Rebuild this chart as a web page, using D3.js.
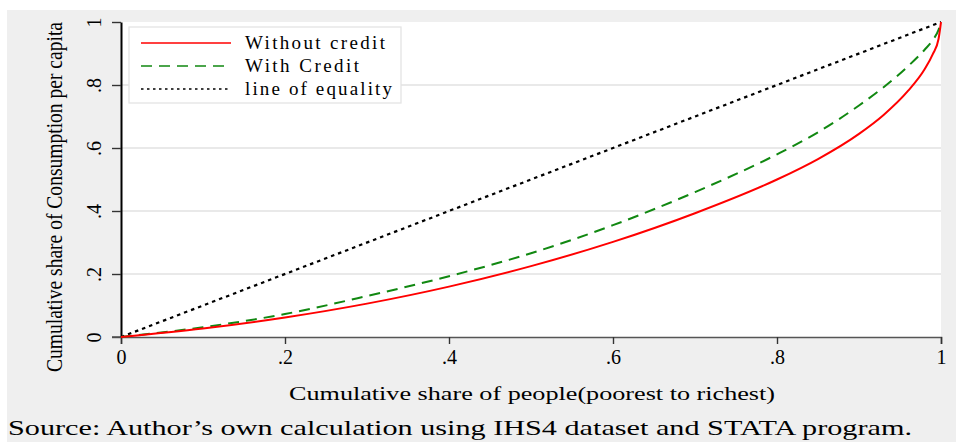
<!DOCTYPE html>
<html>
<head>
<meta charset="utf-8">
<script src="https://cdn.jsdelivr.net/npm/d3@7"></script>
<style>
  body { margin: 0; background: #fff; }
  svg text { font-family: "Liberation Serif", "Times New Roman", serif; fill: #000; }
</style>
</head>
<body>
<div id="chart"></div>
<script>
// cumulative share of people (x) and of consumption (y)
var people      = [0, 0.1, 0.2, 0.3, 0.4, 0.5, 0.6, 0.7, 0.8, 0.85, 0.9, 0.93, 0.96, 0.98, 0.99, 0.997, 1];
var noCredit    = [0, 0.027, 0.062, 0.106, 0.16, 0.225, 0.302, 0.393, 0.5, 0.565, 0.645, 0.705, 0.782, 0.85, 0.898, 0.946, 1];
var withCredit  = [0, 0.031, 0.073, 0.13, 0.193, 0.266, 0.355, 0.46, 0.58, 0.65, 0.735, 0.793, 0.86, 0.912, 0.943, 0.975, 1];
var equality    = [0, 1];

var xTicks = [0, 0.2, 0.4, 0.6, 0.8, 1];
var yTicks = [0, 0.2, 0.4, 0.6, 0.8, 1];
var legendNames = ["Without credit", "With Credit", "line of equality"];

var W = 956, H = 442;
var margin = {top: 22, right: 15, bottom: 105, left: 121};

var svg = d3.select("#chart").append("svg")
  .attr("width", W).attr("height", H);

// stata-ish grey background
svg.append("rect").attr("x", 7).attr("y", 10).attr("width", W - 7).attr("height", H - 10)
  .attr("fill", "#efefef");

var x = d3.scaleLinear().domain([0, 1]).range([margin.left, W - margin.right]);
var y = d3.scaleLinear().domain([0, 1]).range([H - margin.bottom, margin.top]);

// plot region
svg.append("rect")
  .attr("x", x(0)).attr("y", y(1))
  .attr("width", x(1) - x(0)).attr("height", y(0) - y(1))
  .attr("fill", "#fff");

// grid
svg.selectAll("line.grid")
  .data(yTicks.filter(function(d) { return d > 0 && d < 1; }))
  .enter().append("line")
    .attr("x1", x(0)).attr("x2", x(1))
    .attr("y1", function(d) { return y(d); })
    .attr("y2", function(d) { return y(d); })
    .attr("stroke", "#e2e2e2").attr("stroke-width", 1.3);

var fmt = function(d) { return d == 0 ? "0" : d == 1 ? "1" : d3.format(".1f")(d).replace(/^0/, ""); };

// x axis
var xAxis = svg.append("g")
  .attr("transform", "translate(0," + y(0) + ")")
  .call(d3.axisBottom(x).tickValues(xTicks).tickFormat(fmt).tickSize(7).tickPadding(6));
xAxis.select(".domain").attr("stroke", "#555").attr("stroke-width", 1.6);
xAxis.selectAll(".tick line").attr("stroke", "#333").attr("stroke-width", 1.4);
xAxis.selectAll(".tick text").style("font-size", "20px").style("font-family", "Liberation Serif");

// y axis
var yAxis = svg.append("g")
  .attr("transform", "translate(" + x(0) + ",0)")
  .call(d3.axisLeft(y).tickValues(yTicks).tickFormat(fmt).tickSize(9).tickSizeOuter(0));
yAxis.select(".domain").attr("stroke", "#000").attr("stroke-width", 2);
yAxis.selectAll(".tick line").attr("stroke", "#333").attr("stroke-width", 1.4);
yAxis.selectAll(".tick text")
  .attr("x", 0).attr("dy", 0).attr("y", 0)
  .attr("text-anchor", "middle")
  .attr("transform", "translate(-20,0) rotate(-90)")
  .style("font-size", "20px").style("font-family", "Liberation Serif");

// extend x axis line left to the y tick
svg.append("line")
  .attr("x1", x(0) - 9).attr("x2", x(0))
  .attr("y1", y(0)).attr("y2", y(0))
  .attr("stroke", "#555").attr("stroke-width", 1.6);

var line = d3.line()
  .x(function(d) { return x(d[0]); })
  .y(function(d) { return y(d[1]); })
  .curve(d3.curveMonotoneX);

var styles = [
  {color: "#ff0000", dash: null, width: 2},
  {color: "#118811", dash: "11,7", width: 2},
  {color: "#000", dash: "3.5,4", width: 2.2}
];

svg.append("path")
  .datum(equality.map(function(p) { return [p, p]; }))
  .attr("d", d3.line().x(function(d) { return x(d[0]); }).y(function(d) { return y(d[1]); }))
  .attr("fill", "none").attr("stroke", styles[2].color)
  .attr("stroke-width", styles[2].width).attr("stroke-dasharray", styles[2].dash);

svg.append("path")
  .datum(people.map(function(p, i) { return [p, withCredit[i]]; }))
  .attr("d", line)
  .attr("fill", "none").attr("stroke", styles[1].color)
  .attr("stroke-width", styles[1].width).attr("stroke-dasharray", styles[1].dash);

svg.append("path")
  .datum(people.map(function(p, i) { return [p, noCredit[i]]; }))
  .attr("d", line)
  .attr("fill", "none").attr("stroke", styles[0].color)
  .attr("stroke-width", styles[0].width);

// legend
var legendLen = [140, 114, 147];
var lg = svg.append("g").attr("transform", "translate(129,27)");
lg.append("rect").attr("width", 272).attr("height", 76)
  .attr("fill", "#fff").attr("stroke", "#e4e4e4").attr("stroke-width", 1.3);
legendNames.forEach(function(name, i) {
  var yy = 16 + i * 23;
  lg.append("line").attr("x1", 12).attr("x2", 102).attr("y1", yy).attr("y2", yy)
    .attr("stroke", styles[i].color).attr("stroke-width", i == 2 ? 1.6 : 1.5)
    .attr("stroke-dasharray", i == 2 ? "2.5,3.5" : styles[i].dash);
  lg.append("text").attr("x", 116).attr("y", yy + 6)
    .attr("textLength", legendLen[i]).attr("lengthAdjust", "spacing")
    .style("font-size", "19px").text(name);
});

// axis titles (y title is tall and narrow in the original)
svg.append("text")
  .attr("transform", "translate(62,197) rotate(-90) scale(1,1.3)")
  .attr("text-anchor", "middle")
  .attr("textLength", 350).attr("lengthAdjust", "spacingAndGlyphs")
  .style("font-size", "18px")
  .text("Cumulative share of Consumption per capita");

svg.append("text")
  .attr("x", 532).attr("y", 400)
  .attr("text-anchor", "middle")
  .attr("textLength", 486).attr("lengthAdjust", "spacingAndGlyphs")
  .style("font-size", "19px")
  .text("Cumulative share of people(poorest to richest)");

svg.append("text")
  .attr("x", 8).attr("y", 435)
  .attr("textLength", 904).attr("lengthAdjust", "spacingAndGlyphs")
  .style("font-size", "22px")
  .text("Source: Author\u2019s own calculation using IHS4 dataset and STATA program.");
</script>
</body>
</html>
